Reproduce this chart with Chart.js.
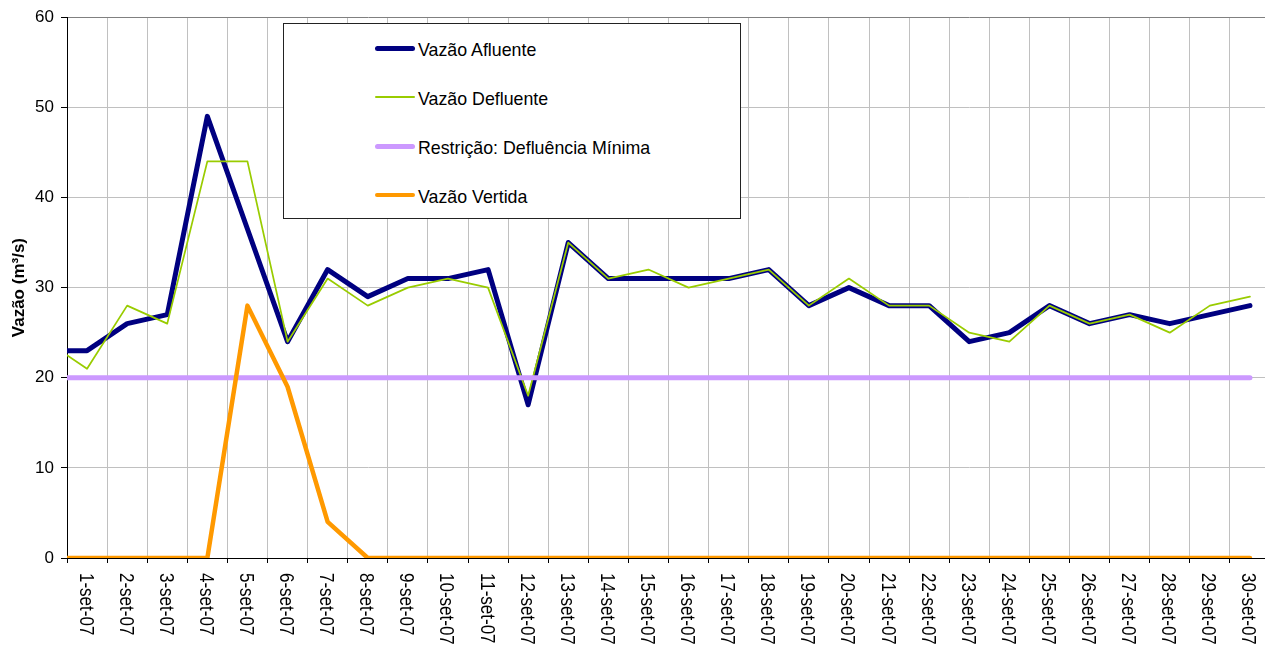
<!DOCTYPE html>
<html>
<head>
<meta charset="utf-8">
<title>Vazão - setembro 2007</title>
<script src="https://cdn.jsdelivr.net/npm/chart.js@4.4.1/dist/chart.umd.min.js"></script>
<style>
  html, body { margin: 0; padding: 0; background: #fff; overflow: hidden; }
  #wrap { position: relative; width: 1265px; height: 645px; overflow: hidden; }
  #chart { position: absolute; left: 0; top: 0; }
  #legend {
    position: absolute; left: 283px; top: 23px; width: 458px; height: 196px;
    box-sizing: border-box; border: 1px solid #222; background: #fff;
    font-family: "Liberation Sans", Arial, sans-serif; font-size: 17.8px; color: #000;
  }
  .lg-line { position: absolute; left: 91px; width: 40px; border-radius: 3px; }
  .lg-text { position: absolute; left: 134px; line-height: 20px; white-space: nowrap; }
</style>
</head>
<body>
<div id="wrap">
  <canvas id="chart" width="1290" height="645"></canvas>
  <div id="legend"></div>
</div>
<script>
// Vazões diárias - setembro/2007
// ====================================

const dayLabels = [
  '1-set-07', '2-set-07', '3-set-07', '4-set-07', '5-set-07', '6-set-07', '7-set-07', '8-set-07',
  '9-set-07', '10-set-07', '11-set-07', '12-set-07', '13-set-07', '14-set-07', '15-set-07',
  '16-set-07', '17-set-07', '18-set-07', '19-set-07', '20-set-07', '21-set-07', '22-set-07',
  '23-set-07', '24-set-07', '25-set-07', '26-set-07', '27-set-07', '28-set-07', '29-set-07', '30-set-07'
];

// the series start half a day before 1-set (left edge of the plot)
const pointDays = [0.5, 1, 2, 3, 4, 5, 6, 7, 8, 9, 10, 11, 12, 13, 14, 15,
  16, 17, 18, 19, 20, 21, 22, 23, 24, 25, 26, 27, 28, 29, 30];

const vazaoAfluente = [23, 23, 26, 27, 49, 36.5, 24, 32, 29, 31, 31, 32, 17, 35, 31, 31,
  31, 31, 32, 28, 30, 28, 28, 24, 25, 28, 26, 27, 26, 27, 28];
const vazaoDefluente = [22.5, 21, 28, 26, 44, 44, 24, 31, 28, 30, 31, 30, 18, 35, 31, 32,
  30, 31, 32, 28, 31, 28, 28, 25, 24, 28, 26, 27, 25, 28, 29];
const defluenciaMinima = [20, 20, 20, 20, 20, 20, 20, 20, 20, 20, 20, 20, 20, 20, 20, 20,
  20, 20, 20, 20, 20, 20, 20, 20, 20, 20, 20, 20, 20, 20, 20];
const vazaoVertida = [0, 0, 0, 0, 0, 28, 19, 4, 0, 0, 0, 0, 0, 0, 0, 0,
  0, 0, 0, 0, 0, 0, 0, 0, 0, 0, 0, 0, 0, 0, 0];

const yTicks = [0, 10, 20, 30, 40, 50, 60];

const FONT = '"Liberation Sans", Arial, sans-serif';
Chart.defaults.font.family = FONT;
Chart.defaults.color = '#000';

const series = [
  { name: 'Vazão Afluente', values: vazaoAfluente, color: '#000080', width: 5, order: 4 },
  { name: 'Vazão Defluente', values: vazaoDefluente, color: '#99cc00', width: 1.75, order: 3 },
  { name: 'Restrição: Defluência Mínima', values: defluenciaMinima, color: '#cc99ff', width: 5, order: 2 },
  { name: 'Vazão Vertida', values: vazaoVertida, color: '#ff9900', width: 4.5, order: 1 }
];

function g(id) { return document.getElementById(id); }

// html legend (box over the plot, like the original)
const lgTextTop = [16, 65, 114, 163];
g('legend').innerHTML = series.map((s, i) => `
  <div class="lg-line" style="top:${lgTextTop[i] + 8 - s.width / 2}px;height:${s.width}px;background:${s.color}"></div>
  <div class="lg-text" style="top:${lgTextTop[i]}px">${s.name}</div>
`).join('');

// rotated day labels (read top to bottom, glyphs a bit wide like the original)
const dateLabelsPlugin = {
  id: 'dateLabels',
  afterDraw(chart) {
    const ctx = chart.ctx;
    const xs = chart.scales.x;
    ctx.save();
    ctx.font = '17px ' + FONT;
    ctx.fillStyle = '#000';
    ctx.textAlign = 'left';
    ctx.textBaseline = 'middle';
    dayLabels.forEach((lab, i) => {
      ctx.save();
      ctx.translate(xs.getPixelForValue(i + 1) - 2, 573);
      ctx.rotate(Math.PI / 2);
      ctx.scale(1, 1.18);
      ctx.fillText(lab, 0, 0);
      ctx.restore();
    });
    ctx.restore();
  }
};

new Chart(g('chart'), {
  type: 'line',
  data: {
    datasets: series.map(s => ({
      label: s.name,
      data: s.values.map((v, i) => ({ x: pointDays[i], y: v })),
      borderColor: s.color,
      backgroundColor: s.color,
      borderWidth: s.width,
      borderJoinStyle: 'round',
      borderCapStyle: 'round',
      pointRadius: 0,
      tension: 0,
      order: s.order
    }))
  },
  options: {
    responsive: false,
    animation: false,
    layout: { padding: { top: 17, right: 20, bottom: 0, left: 0 } },
    plugins: { legend: { display: false }, tooltip: { enabled: false } },
    scales: {
      x: {
        type: 'linear',
        min: 0.5,
        max: 30.5,
        afterBuildTicks: s => { s.ticks = dayLabels.map((d, i) => ({ value: i + 0.5 })).concat([{ value: 30.5 }]); },
        ticks: { display: false },
        grid: { color: '#c0c0c0', tickColor: '#000', tickLength: 5 },
        border: { color: '#000', width: 1 },
        afterFit: s => { s.height = 87; }
      },
      y: {
        min: 0,
        max: 60,
        afterBuildTicks: s => { s.ticks = yTicks.map(v => ({ value: v })); },
        ticks: { color: '#000', font: { size: 17 }, padding: 7 },
        grid: {
          color: c => (c.tick && c.tick.value === 60) ? '#808080' : '#c0c0c0',
          tickColor: '#000',
          tickLength: 6
        },
        border: { color: '#000', width: 1 },
        title: {
          display: true,
          text: 'Vazão (m³/s)',
          color: '#000',
          font: { size: 17, weight: 'bold' },
          padding: { top: 9, bottom: 0 }
        },
        afterFit: s => { s.width = 67; }
      }
    }
  },
  plugins: [dateLabelsPlugin]
});
</script>
</body>
</html>
